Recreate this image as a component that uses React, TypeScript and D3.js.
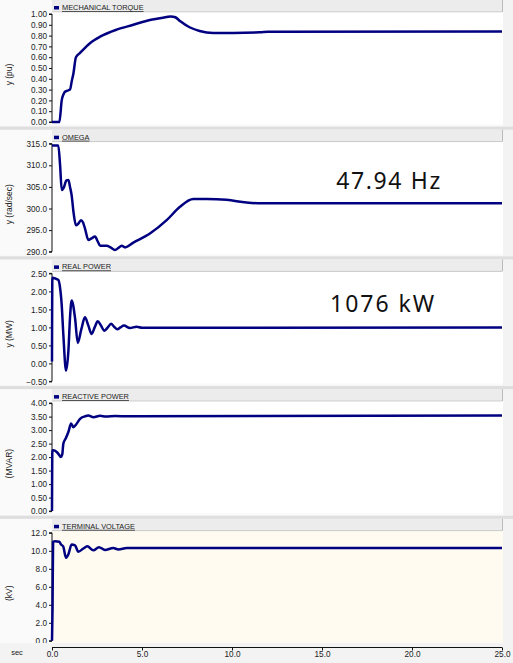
import React, { useEffect, useRef } from 'react';
import * as d3 from 'd3';

type Pt = [number, number];

// time axis (sec)
const timeTicks = [0, 5, 10, 15, 20, 25];

const panelTitles = ['MECHANICAL TORQUE', 'OMEGA', 'REAL POWER', 'REACTIVE POWER', 'TERMINAL VOLTAGE'];
const panelYLabels = ['y (pu)', 'y (rad/sec)', 'y (MW)', '(MVAR)', '(kV)'];

const torqueTicks = [0, 0.1, 0.2, 0.3, 0.4, 0.5, 0.6, 0.7, 0.8, 0.9, 1.0];
const omegaTicks = [290, 295, 300, 305, 310, 315];
const realTicks = [-0.5, 0, 0.5, 1.0, 1.5, 2.0, 2.5];
const reactiveTicks = [0, 0.5, 1.0, 1.5, 2.0, 2.5, 3.0, 3.5, 4.0];
const voltageTicks = [0, 2, 4, 6, 8, 10, 12];

const torqueData: Pt[] = [
  [0, 0], [0.41, 0], [0.54, 0.2], [0.65, 0.26], [0.72, 0.28], [0.85, 0.29], [1.0, 0.3],
  [1.1, 0.38], [1.19, 0.45], [1.33, 0.6], [1.56, 0.64], [2.11, 0.73], [2.67, 0.79],
  [3.59, 0.855], [4.52, 0.9], [5.44, 0.945], [6.0, 0.96], [6.37, 0.972], [6.6, 0.978],
  [6.85, 0.97], [7.11, 0.935], [7.67, 0.875], [8.2, 0.843], [8.96, 0.825], [10.06, 0.825],
  [11.56, 0.83], [12.0, 0.835], [25, 0.838],
];

const omegaData: Pt[] = [
  [0, 314.6], [0.35, 314.6], [0.45, 310], [0.54, 304.3], [0.65, 304.8], [0.8, 306.5],
  [0.91, 306.6], [1.0, 305], [1.09, 303.1], [1.2, 299], [1.33, 296.1], [1.46, 296.5],
  [1.61, 297.3], [1.72, 296.8], [1.83, 295.4], [2.02, 292.7], [2.2, 293.1], [2.39, 293.5],
  [2.55, 292.3], [2.67, 291.4], [3.04, 291.4], [3.25, 291.0], [3.5, 290.4], [3.7, 290.9],
  [3.87, 291.4], [4.06, 291.0], [4.52, 292.1], [5.44, 294.2], [6.37, 297.3], [7.11, 300.4],
  [7.85, 302.2], [8.59, 302.2], [9.7, 302.0], [10.8, 301.4], [11.6, 301.2], [25, 301.2],
];

const realData: Pt[] = [
  [0, 0.05], [0.02, 2.38], [0.17, 2.36], [0.35, 2.32], [0.44, 2.13], [0.54, 1.62],
  [0.63, 0.8], [0.78, -0.2], [0.91, 0.34], [1.0, 1.26], [1.09, 1.75], [1.28, 1.26],
  [1.43, 0.57], [1.63, 0.95], [1.83, 1.28], [2.02, 1.05], [2.2, 0.82], [2.37, 1.0],
  [2.54, 1.17], [2.72, 1.05], [2.91, 0.91], [3.1, 1.0], [3.28, 1.1], [3.45, 1.02],
  [3.63, 0.95], [3.8, 1.0], [4.0, 1.05], [4.33, 0.98], [4.7, 1.02], [5.0, 0.99], [25, 1.0],
];

const reactiveData: Pt[] = [
  [0, 0], [0.02, 2.25], [0.07, 2.25], [0.26, 2.19], [0.41, 2.07], [0.48, 2.0], [0.57, 2.1],
  [0.63, 2.5], [0.76, 2.69], [0.91, 2.93], [1.06, 3.24], [1.19, 3.11], [1.33, 3.2],
  [1.56, 3.42], [1.83, 3.51], [2.02, 3.54], [2.3, 3.48], [2.67, 3.53], [3.0, 3.5],
  [3.5, 3.52], [4.3, 3.51], [25, 3.54],
];

const voltageData: Pt[] = [
  [0, 0], [0.03, 3.6], [0.06, 11.0], [0.17, 11.05], [0.41, 11.0], [0.5, 10.7], [0.62, 10.5],
  [0.78, 9.23], [0.91, 9.6], [1.09, 10.7], [1.28, 10.6], [1.46, 9.9], [1.74, 10.25],
  [1.96, 10.5], [2.3, 10.05], [2.61, 10.4], [2.94, 10.1], [3.4, 10.3], [3.69, 10.15],
  [4.15, 10.3], [25, 10.3],
];

const panelTicks = [torqueTicks, omegaTicks, realTicks, reactiveTicks, voltageTicks];
const panelSeries = [torqueData, omegaData, realData, reactiveData, voltageData];
const panelFormats = ['.2f', '.1f', '.2f', '.2f', '.1f'];

const notes = [
  { panel: 1, text: '47.94 Hz', t: 18.68, value: 304.4 },
  { panel: 2, text: '1076 kW', t: 18.34, value: 1.42 },
];

const App: React.FC = () => {
  const svgRef = useRef<SVGSVGElement>(null);

  useEffect(() => {
    if (!svgRef.current) return;
    const svg = d3.select(svgRef.current);
    svg.selectAll('*').remove();

    const width = 513;
    const height = 663;
    const left = 52;
    const right = 502;
    const panelStep = 129.7;
    const font = "'Liberation Sans', Arial, sans-serif";

    svg.attr('width', width).attr('height', height);

    svg.append('rect').attr('width', width).attr('height', height).attr('fill', '#f3f3f3');

    const x = d3.scaleLinear().domain([0, 25]).range([left, right]);

    panelSeries.forEach((series, i) => {
      const p = -1 + i * panelStep;
      const ticks = panelTicks[i];
      const y = d3.scaleLinear()
        .domain([ticks[0], ticks[ticks.length - 1]])
        .range([p + 123, p + 15]);

      const g = svg.append('g');

      // panel body
      g.append('rect').attr('x', 0).attr('y', p + 1).attr('width', right + 1).attr('height', 126)
        .attr('fill', '#fafafa');
      // separator
      g.append('rect').attr('x', 0).attr('y', p - 2).attr('width', width).attr('height', 3)
        .attr('fill', '#dedede');
      // header band
      g.append('rect').attr('x', left).attr('y', p + 1).attr('width', right - left).attr('height', 12)
        .attr('fill', '#ececec');
      g.append('line').attr('x1', left).attr('x2', right).attr('y1', p + 13).attr('y2', p + 13)
        .attr('stroke', '#c4c4c4');
      g.append('line').attr('x1', right + 0.5).attr('x2', right + 0.5).attr('y1', p + 1).attr('y2', p + 13)
        .attr('stroke', '#bbbbbb');

      // plot area
      g.append('rect').attr('x', left).attr('y', p + 13.5).attr('width', right - left + 1).attr('height', 111.5)
        .attr('fill', i === 4 ? '#fffbf0' : '#ffffff');

      // legend + title
      g.append('rect').attr('x', 54).attr('y', p + 7).attr('width', 5).attr('height', 3.5)
        .attr('fill', '#000080');
      g.append('text')
        .attr('x', 62).attr('y', p + 11)
        .attr('font-family', font).attr('font-size', 7.4)
        .attr('fill', '#222')
        .attr('text-decoration', 'underline')
        .text(panelTitles[i]);

      // y axis
      const axis = d3.axisLeft(y).tickValues(ticks).tickSize(3).tickPadding(2)
        .tickFormat(d3.format(panelFormats[i]) as any);
      const ag = g.append('g').attr('transform', `translate(${left},0)`).call(axis);
      ag.select('.domain').attr('stroke', '#111').attr('d', `M-3,${y.range()[1]}H0V${y.range()[0]}H-3`);
      ag.selectAll('text').attr('font-family', font).attr('font-size', 8.2).attr('fill', '#222');
      ag.selectAll('line').attr('stroke', '#111');

      // y label
      const cy = p + 75.5;
      g.append('text')
        .attr('transform', `translate(12,${cy}) rotate(-90)`)
        .attr('text-anchor', 'middle')
        .attr('font-family', font).attr('font-size', 8.5).attr('fill', '#222')
        .text(panelYLabels[i]);

      // series line
      const line = d3.line<Pt>()
        .x(d => x(d[0]))
        .y(d => y(d[1]))
        .curve(d3.curveMonotoneX);
      g.append('path')
        .datum(series)
        .attr('d', line)
        .attr('fill', 'none')
        .attr('stroke', '#000080')
        .attr('stroke-width', 2.5)
        .attr('stroke-linejoin', 'round');

      // annotations
      notes.filter(n => n.panel === i).forEach(n => {
        g.append('text')
          .attr('x', x(n.t)).attr('y', y(n.value))
          .attr('text-anchor', 'middle')
          .attr('font-family', "'Noto Sans', sans-serif")
          .attr('font-size', 23)
          .attr('fill', '#111')
          .attr('textLength', 104)
          .attr('lengthAdjust', 'spacing')
          .text(n.text);
      });
    });

    // time axis at the bottom
    const axisY = 647.5;
    svg.append('rect').attr('x', 0).attr('y', 643).attr('width', width).attr('height', 20).attr('fill', '#f3f3f3');
    const xg = svg.append('g').attr('transform', `translate(0,${axisY})`)
      .call(d3.axisBottom(x).tickValues(timeTicks).tickSize(3).tickPadding(1)
        .tickFormat(d3.format('.1f') as any));
    xg.select('.domain').attr('stroke', '#111').attr('d', `M${left},0H${right}`);
    xg.selectAll('line').attr('stroke', '#111');
    xg.selectAll('text').attr('font-family', font).attr('font-size', 8.2).attr('fill', '#222');
    svg.append('text')
      .attr('x', 17).attr('y', 655)
      .attr('text-anchor', 'middle')
      .attr('font-family', font).attr('font-size', 7.5).attr('fill', '#222')
      .text('sec');
  }, []);

  return (
    <svg ref={svgRef} style={{ position: 'absolute', left: 0, top: 0, display: 'block' }} />
  );
};

export default App;
